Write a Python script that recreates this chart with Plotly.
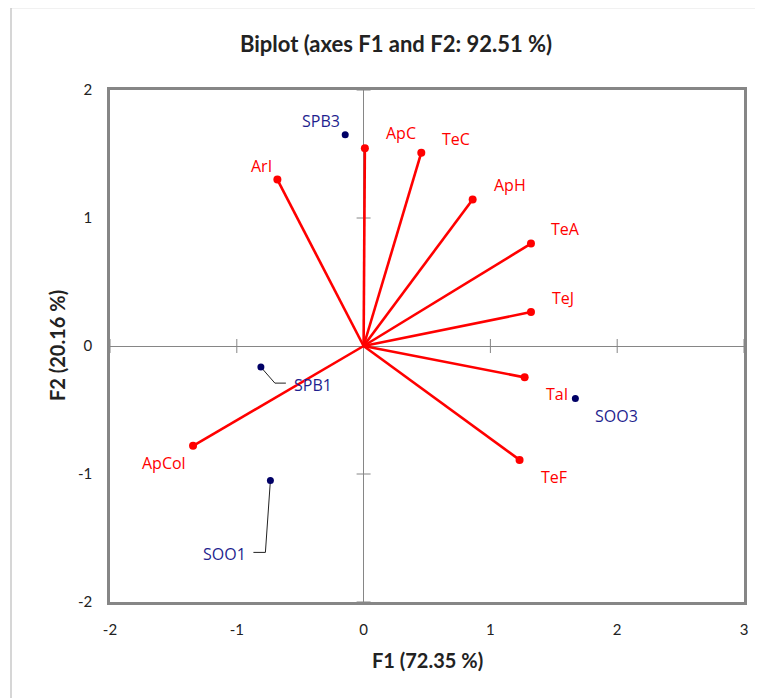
import plotly.graph_objects as go

# ---------------- data ----------------
var_names = ["ArI", "ApC", "TeC", "ApH", "TeA", "TeJ", "TaI", "TeF", "ApCol"]
var_f1 = [-0.68, 0.01, 0.455, 0.86, 1.32, 1.32, 1.27, 1.23, -1.345]
var_f2 = [1.30, 1.545, 1.51, 1.145, 0.80, 0.265, -0.245, -0.89, -0.78]

obs_names = ["SPB3", "SOO3", "SPB1", "SOO1"]
obs_f1 = [-0.145, 1.67, -0.81, -0.735]
obs_f2 = [1.65, -0.41, -0.165, -1.05]

x_ticks = [-2, -1, 0, 1, 2, 3]
x_tick_labels = ["-2", "-1", "0", "1", "2", "3"]
y_ticks = [-2, -1, 0, 1, 2]
y_tick_labels = ["-2", "-1", "0", "1", "2"]

title_text = "Biplot (axes F1 and F2: 92.51 %)"
x_title = "F1 (72.35 %)"
y_title = "F2 (20.16 %)"

# ---------------- styling / layout ----------------
# page has an 8px body margin, so the figure is offset by 8px
OFF = 8
W, H = 763 - OFF, 698 - OFF
ML, MT = 110 - OFF, 90 - OFF
MR = W - (744 - OFF)
MB = H - (602 - OFF)
XR = [-2, 3]
YR = [-2, 2]
pw = W - ML - MR
ph = H - MT - MB
sx = pw / (XR[1] - XR[0])  # px per unit
sy = ph / (YR[1] - YR[0])

RED = "#ff0000"
NAVY = "#000066"
LBLUE = "#1f1f8f"
GRAY = "#868686"
TXT = "#222222"

# label offsets (px, screen: dx right, dy up)
var_off = {"ArI": (-16, 14), "ApC": (36, 15), "TeC": (35, 14), "ApH": (37, 14),
           "TeA": (35, 15), "TeJ": (32, 14), "TaI": (32, -17), "TeF": (34, -17),
           "ApCol": (-29, -17)}
obs_off = {"SPB3": (-24, 14), "SOO3": (41, -18), "SPB1": (52, -18), "SOO1": (-46, -74)}
# leader paths (px offsets from point, screen y down)
leaders = {"SPB1": [(0, 0), (14, 16), (25, 16)],
           "SOO1": [(0, 0), (-5, 72), (-17, 72)]}

fig = go.Figure()

# tick marks crossing the zero lines
xt = [t for t in x_ticks if t != 0]
yt = [t for t in y_ticks if t != 0]
fig.add_trace(go.Scatter(x=xt, y=[0] * len(xt),
                         mode="markers", hoverinfo="skip", showlegend=False,
                         marker=dict(symbol="line-ns-open", size=10, color=GRAY,
                                     line=dict(color=GRAY, width=1))))
fig.add_trace(go.Scatter(x=[0] * len(yt), y=yt,
                         mode="markers", hoverinfo="skip", showlegend=False,
                         marker=dict(symbol="line-ew-open", size=10, color=GRAY,
                                     line=dict(color=GRAY, width=1))))

# vectors
for n, x, y in zip(var_names, var_f1, var_f2):
    fig.add_trace(go.Scatter(x=[0, x], y=[0, y], mode="lines",
                             line=dict(color=RED, width=2.6), hoverinfo="skip",
                             showlegend=False))
fig.add_trace(go.Scatter(x=var_f1, y=var_f2, mode="markers",
                         marker=dict(color=RED, size=8), showlegend=False,
                         text=var_names))

# leader lines
for n, x, y in zip(obs_names, obs_f1, obs_f2):
    if n in leaders:
        pts = leaders[n]
        fig.add_trace(go.Scatter(x=[x + dx / sx for dx, dy in pts],
                                 y=[y - dy / sy for dx, dy in pts],
                                 mode="lines", line=dict(color="#222222", width=1),
                                 hoverinfo="skip", showlegend=False))

fig.add_trace(go.Scatter(x=obs_f1, y=obs_f2, mode="markers",
                         marker=dict(color=NAVY, size=7), showlegend=False,
                         text=obs_names))

LBL_FONT = "Open Sans"
for n, x, y in zip(var_names, var_f1, var_f2):
    dx, dy = var_off[n]
    fig.add_annotation(x=x, y=y, text=n, showarrow=False, xshift=dx, yshift=dy,
                       font=dict(family=LBL_FONT, size=16, color=RED))
for n, x, y in zip(obs_names, obs_f1, obs_f2):
    dx, dy = obs_off[n]
    fig.add_annotation(x=x, y=y, text=n, showarrow=False, xshift=dx, yshift=dy,
                       font=dict(family=LBL_FONT, size=16, color=LBLUE))

# axis titles
fig.add_annotation(xref="paper", yref="paper", x=0.5, y=-(660 - 602) / ph,
                   text=x_title, showarrow=False, yanchor="middle",
                   font=dict(family="Lato", size=20, color=TXT, weight="bold"))
fig.add_annotation(xref="paper", yref="paper", x=(57 - 110) / pw, y=0.5,
                   text=y_title, showarrow=False, textangle=-90, xanchor="center",
                   font=dict(family="Lato", size=20, color=TXT, weight="bold"))

# outer chart frame (left and top edges; right/bottom lie outside the view)
fx0 = (11 - 110) / pw
fy1 = (602 - 7.5) / ph
fig.add_shape(type="line", xref="paper", yref="paper",
              x0=fx0, x1=fx0, y0=-(H - MT) / ph, y1=fy1,
              line=dict(color="#c8c8c8", width=1.5), layer="below")
fig.add_shape(type="line", xref="paper", yref="paper",
              x0=fx0, x1=(W - ML) / pw, y0=fy1, y1=fy1,
              line=dict(color="#c8c8c8", width=1.5), layer="below")

axis_common = dict(showgrid=False, zeroline=True, zerolinecolor=GRAY, zerolinewidth=1,
                   showline=True, linecolor=GRAY, linewidth=2.5, mirror=True,
                   ticks="", tickfont=dict(family="Lato", size=15, color=TXT),
                   ticklabelstandoff=12)

fig.update_layout(
    width=W, height=H,
    margin=dict(l=ML, r=MR, t=MT, b=MB),
    paper_bgcolor="white", plot_bgcolor="white",
    title=dict(text=title_text, x=(396 - OFF) / W, xanchor="center",
               y=1 - (44 - OFF) / H,
               yanchor="middle", xref="container", yref="container",
               font=dict(family="Lato", size=22, color=TXT, weight="bold")),
    xaxis=dict(range=XR, tickvals=x_ticks, ticktext=x_tick_labels, **axis_common),
    yaxis=dict(range=YR, tickvals=y_ticks, ticktext=y_tick_labels, **axis_common),
    showlegend=False,
)

fig.write_html("out.html")
